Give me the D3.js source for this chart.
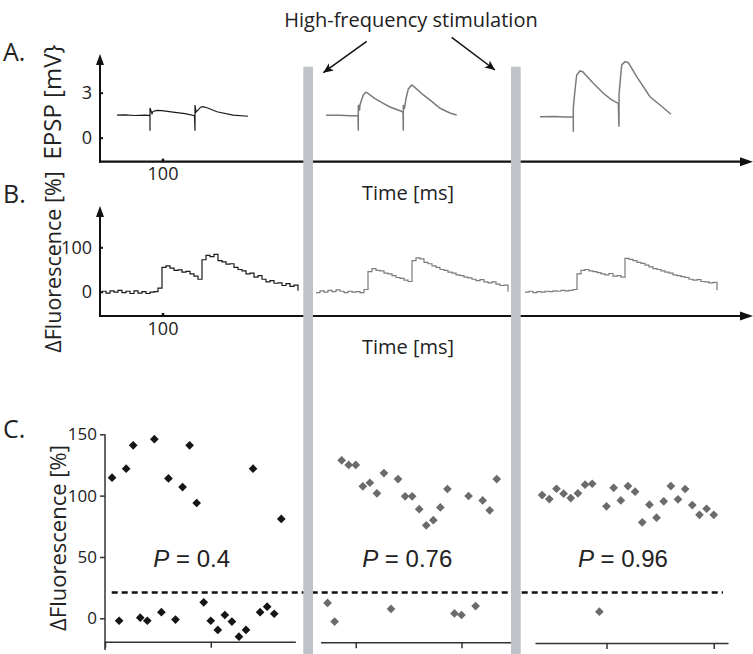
<!DOCTYPE html>
<html><head><meta charset="utf-8">
<script src="https://cdn.jsdelivr.net/npm/d3@7/dist/d3.min.js"></script>
<style>body{margin:0;background:#fff}svg{display:block}</style>
</head><body>
<svg id="chart" width="753" height="654"></svg>
<script>
// ---------------- DATA ----------------
const titleText = "High-frequency stimulation";
const panelLabels = ["A.", "B.", "C."];
const timeLabel = "Time [ms]";
const epspLabel = "EPSP [mV}";
const fluoLabel = "\u0394Fluorescence [%]";
const epspTicks = [0, 3];
const fluoTicks = [0, 100];
const timeTicks = [100];
const scatterTicksY = [0, 50, 100, 150];

// EPSP traces: [time ms, mV] (incl. stimulus artefacts)
const epsp1 = [[27.2,1.5],[40,1.52],[56,1.48],[72,1.5],[80,1.47],[80,0.47],[80,1.98],[83.2,1.6],[84.8,1.75],[91.2,1.82],[99.2,1.8],[116.8,1.7],[136,1.6],[151.2,1.47],[152,0.47],[152,2.18],[153.6,1.7],[156.8,1.85],[161.6,2.05],[164.8,2.07],[171.2,2.0],[187.2,1.73],[212.8,1.5],[236.8,1.43]];
const epsp2 = [[361.6,1.5],[384,1.49],[400,1.47],[412.8,1.47],[413.3,0.47],[413.3,2.18],[415.2,1.8],[416,2.2],[419.2,2.6],[421.3,2.85],[425.1,3.03],[427.2,3.0],[440,2.6],[453.3,2.29],[464,2.05],[480,1.8],[484.8,1.71],[485.3,0.47],[485.3,2.18],[486.9,1.9],[489.6,2.6],[493.3,3.25],[498.7,3.51],[502.4,3.4],[517.3,2.85],[531.2,2.4],[544,1.96],[560,1.65],[570.7,1.51]];
const epsp3 = [[704,1.4],[728,1.42],[744,1.38],[757.3,1.4],[757.3,0.4],[757.3,1.96],[760,3.18],[762.7,4.18],[768,4.45],[772.3,4.4],[789.3,3.63],[805.3,2.96],[817.6,2.55],[829.3,2.29],[830.4,0.73],[830.4,2.85],[832,3.63],[834.7,4.85],[840,5.07],[845.3,5.0],[858.7,4.07],[880,2.73],[896,2.18],[913.6,1.56]];

// Fluorescence traces: start time (ms), sample interval (ms), values (%)
const fluoDt = 6.4;
const fluo1Start = 3.2;
const fluo1 = [1,-3,2,-1,3,-2,1,-4,2,-3,0,-4,-1,0,8,55,58,53,48,49,44,46,40,35,28,72,82,79,84,70,67,62,63,55,50,47,40,42,33,36,28,22,25,19,20,14,18,12,15,2];
const fluo2Start = 345.6;
const fluo2 = [-2,2,-1,3,0,4,1,-2,1,-1,0,-2,5,45,52,48,47,42,40,36,32,30,26,23,70,76,74,66,63,58,55,50,48,44,42,38,36,33,31,28,25,27,22,20,22,17,14,15,0];
const fluo3Start = 680;
const fluo3 = [-1,1,-2,0,-1,1,0,2,1,3,2,3,5,40,48,50,47,45,43,40,38,41,35,36,33,75,73,70,66,64,60,56,52,50,47,44,42,38,36,34,32,28,26,27,23,22,20,21,3];

// Scatter (panel C): 25 consecutive samples per period, ΔFluorescence [%]
const scatter1 = [114.6,-2,122,141,0.5,-2,146,5,114,-1,107,141,94,13,-2,-9.5,2.7,-2.7,-15,-9.5,122,5,9.5,3.7,81];
const scatter2 = [12.5,-2.7,128.8,125,125,107.6,110.5,101.9,118.4,7.6,113.5,99.4,99.4,89,75.8,80,90.4,105.4,4,2.7,99.7,10,96.1,88,113.5];
const scatter3 = [100.5,97.2,105.6,101.6,98,101.9,108.9,109.7,5.4,91.3,106.4,96.1,107.8,103.2,78.2,92.6,82,95.4,107.8,97,105.4,92.3,84.4,89.3,84.4];
const scatterXTicks = [[0, 15], [5, 20], [10, 25]];
const threshold = 21;
const pValues = ["0.4", "0.76", "0.96"];

// ---------------- DRAWING ----------------
const svg = d3.select("#chart");
const FONT = "'Open Sans', 'Noto Sans', sans-serif";
const AR = "'Liberation Sans', Arial, sans-serif";

const defs = svg.append("defs");
defs.append("marker").attr("id","ah").attr("viewBox","0 0 10 10").attr("refX",10).attr("refY",5)
  .attr("markerWidth",10).attr("markerHeight",10).attr("markerUnits","userSpaceOnUse").attr("orient","auto")
  .append("path").attr("d","M0,0.5 L10,5 L0,9.5 L2.5,5 Z").attr("fill","#111");

const xT = d3.scaleLinear().domain([0, 1040]).range([100, 750]);
const yA = d3.scaleLinear().domain([0, 3]).range([137.7, 92.7]);
const yB = d3.scaleLinear().domain([0, 100]).range([291.7, 247.3]);
const yC = d3.scaleLinear().domain([0, 150]).range([618.3, 434.3]);

function arrowAxes(yTop, yBase) {
  const g = svg.append("g");
  g.append("line").attr("x1",100).attr("x2",100).attr("y1",yBase+1).attr("y2",yTop+9)
    .attr("stroke","#111").attr("stroke-width",2);
  g.append("path").attr("d",`M100,${yTop} L104,${yTop+11} L96,${yTop+11} Z`).attr("fill","#111");
  g.append("line").attr("x1",99).attr("x2",742).attr("y1",yBase).attr("y2",yBase)
    .attr("stroke","#111").attr("stroke-width",2.2);
  g.append("path").attr("d",`M753,${yBase} L740,${yBase-4.5} L740,${yBase+4.5} Z`).attr("fill","#111");
}

function leftTicks(scale, ticks) {
  const g = svg.append("g").attr("transform","translate(100,0)")
    .call(d3.axisLeft(scale).tickValues(ticks).tickFormat(d3.format("d")).tickSize(-3).tickPadding(8));
  g.select(".domain").remove();
  g.selectAll(".tick line").attr("stroke","#111").attr("stroke-width",2);
  g.selectAll(".tick text").attr("font-family",FONT).attr("font-size",18).attr("fill","#222");
}
function bottomTicks(yBase) {
  const g = svg.append("g").attr("transform",`translate(0,${yBase})`)
    .call(d3.axisBottom(xT).tickValues(timeTicks).tickFormat(d3.format("d")).tickSize(-3).tickPadding(6));
  g.select(".domain").remove();
  g.selectAll(".tick line").attr("stroke","#111").attr("stroke-width",2.5);
  g.selectAll(".tick text").attr("font-family",FONT).attr("font-size",18).attr("fill","#222");
}

// Panel A
arrowAxes(54, 161.7);
leftTicks(yA, epspTicks);
bottomTicks(161.7);
const lineA = d3.line().x(d => xT(d[0])).y(d => yA(d[1]));
[[epsp1,"#1a1a1a",1.2],[epsp2,"#7b7b7b",1.5],[epsp3,"#7b7b7b",1.5]].forEach(([d,c,w]) => {
  svg.append("path").datum(d).attr("d",lineA).attr("fill","none").attr("stroke",c).attr("stroke-width",w);
});

// Panel B
arrowAxes(206, 316);
leftTicks(yB, fluoTicks);
bottomTicks(316);
const lineB = d3.line().curve(d3.curveStepAfter).x(d => xT(d[0])).y(d => yB(d[1]));
function toSeries(start, vals) { return vals.map((v,i) => [start + i*fluoDt, v]); }
[[toSeries(fluo1Start,fluo1),"#1a1a1a",1.2],[toSeries(fluo2Start,fluo2),"#7b7b7b",1.2],[toSeries(fluo3Start,fluo3),"#7b7b7b",1.2]].forEach(([d,c,w]) => {
  svg.append("path").datum(d).attr("d",lineB).attr("fill","none").attr("stroke",c).attr("stroke-width",w);
});

// Time labels
[199.5, 353.8].forEach(y => svg.append("text").attr("x",408).attr("y",y).attr("text-anchor","middle")
  .attr("font-family",FONT).attr("font-size",20).attr("fill","#222").text(timeLabel));

// Y labels
svg.append("text").attr("transform","translate(61,102) rotate(-90)").attr("text-anchor","middle")
  .attr("font-family",FONT).attr("font-size",24).attr("fill","#222").text(epspLabel);
svg.append("text").attr("transform","translate(61,262) rotate(-90)").attr("text-anchor","middle")
  .attr("font-family",FONT).attr("font-size",21.5).attr("fill","#222").text(fluoLabel);
svg.append("text").attr("transform","translate(66,538) rotate(-90)").attr("text-anchor","middle")
  .attr("font-family",FONT).attr("font-size",22).attr("fill","#222").text(fluoLabel);

// Panel letters
[[3,61],[3,203],[3,438]].forEach(([x,y],i) => svg.append("text").attr("x",x).attr("y",y)
  .attr("font-family",FONT).attr("font-size",25).attr("fill","#222").text(panelLabels[i]));

// Panel C
const gC = svg.append("g").attr("transform","translate(105,0)")
  .call(d3.axisLeft(yC).tickValues(scatterTicksY).tickSize(5).tickPadding(3));
gC.select(".domain").remove();
gC.selectAll(".tick line").attr("stroke","#333").attr("stroke-width",1.5);
gC.selectAll(".tick text").attr("font-family",FONT).attr("font-size",17).attr("fill","#222");
svg.append("line").attr("x1",105).attr("x2",105).attr("y1",yC(150)).attr("y2",650).attr("stroke","#333").attr("stroke-width",1.5);

const groups = [
  {data: scatter1, start:105, step:7.05, y:641.7, color:"#151515"},
  {data: scatter2, start:320.5, step:7.05, y:642.3, color:"#6b6b6b"},
  {data: scatter3, start:535, step:7.15, y:643, color:"#6b6b6b"}
];
const diamond = d3.symbol(d3.symbolSquare, 38);
groups.forEach((gr, gi) => {
  const xs = d3.scaleLinear().domain([0, 27]).range([gr.start, gr.start + 27*gr.step]);
  const ax = svg.append("g").attr("transform",`translate(0,${gr.y})`)
    .call(d3.axisBottom(xs).tickValues(scatterXTicks[gi]).tickSize(6).tickSizeOuter(0).tickFormat(""));
  ax.select(".domain").attr("stroke","#333").attr("stroke-width",1.5);
  ax.selectAll(".tick line").attr("stroke","#333").attr("stroke-width",1.5);
  svg.append("g").selectAll("path").data(gr.data).join("path")
    .attr("d", diamond)
    .attr("transform",(d,i) => `translate(${xs(i+1)},${yC(d)}) rotate(45)`)
    .attr("fill", gr.color);
  const t = svg.append("text").attr("x", xs(12.3)).attr("y",566.7).attr("text-anchor","middle")
    .attr("font-family",AR).attr("font-size",24).attr("fill","#222");
  t.append("tspan").attr("font-style","italic").text("P");
  t.append("tspan").text(" = " + pValues[gi]);
});

// threshold line
svg.append("line").attr("x1",111.7).attr("x2",723).attr("y1",yC(threshold)).attr("y2",yC(threshold))
  .attr("stroke","#111").attr("stroke-width",2.6).attr("stroke-dasharray","6,4");

// stimulation bars
[303.3, 511].forEach(x => svg.append("rect").attr("x",x).attr("y",66.7).attr("width",9.7).attr("height",654-66.7).attr("fill","#bfc2c9"));

// Title & arrows
svg.append("text").attr("x",411).attr("y",27).attr("text-anchor","middle")
  .attr("font-family",FONT).attr("font-size",20).attr("fill","#222").text(titleText);
svg.append("line").attr("x1",366.7).attr("y1",41.3).attr("x2",323.3).attr("y2",72.7)
  .attr("stroke","#111").attr("stroke-width",1.5).attr("marker-end","url(#ah)");
svg.append("line").attr("x1",451.7).attr("y1",37.3).attr("x2",495).attr("y2",70)
  .attr("stroke","#111").attr("stroke-width",1.5).attr("marker-end","url(#ah)");
</script>
</body></html>
